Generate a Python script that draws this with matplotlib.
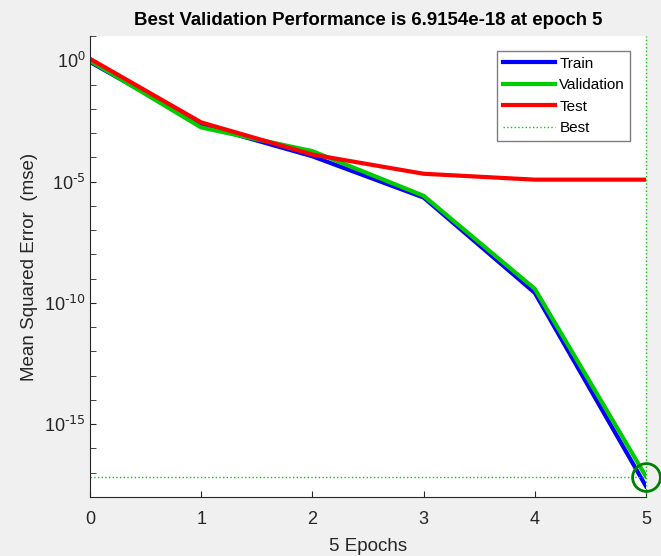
import numpy as np
import matplotlib
matplotlib.use("Agg")
import matplotlib.pyplot as plt
from matplotlib.ticker import LogLocator, NullFormatter

plt.rcParams['font.family'] = ['Liberation Sans', 'DejaVu Sans']
plt.rcParams['axes.unicode_minus'] = False

# performance per epoch (mse)
epochs = [0, 1, 2, 3, 4, 5]
train_perf = [0.85, 2.2e-3, 1.1e-4, 2.2e-6, 2.6e-10, 2.75e-18]
val_perf = [0.95, 1.7e-3, 1.8e-4, 2.6e-6, 3.8e-10, 6.9154e-18]
test_perf = [1.15, 2.75e-3, 1.3e-4, 2.1e-5, 1.2e-5, 1.2e-5]
best_epoch = 5
best_perf = 6.9154e-18
ytick_vals = [1e-15, 1e-10, 1e-5, 1e0]
ytick_labels = ['$\\mathdefault{10^{\\text{-15}}}$', '$\\mathdefault{10^{\\text{-10}}}$',
                '$\\mathdefault{10^{\\text{-5}}}$', '$\\mathdefault{10^{0}}$']

fig = plt.figure(figsize=(6.61, 5.56), dpi=100, facecolor='#f0f0f0')
ax = fig.add_axes([90/661, 59/556, 556/661, 461/556])
ax.set_facecolor('white')

ax.plot(epochs, train_perf, color=(0, 0, 1), lw=3, label='Train')
ax.plot(epochs, val_perf, color=(0, 0.8, 0), lw=3, label='Validation')
ax.plot(epochs, test_perf, color=(1, 0, 0), lw=3, label='Test')

# best validation markers
ax.plot([best_epoch, best_epoch], [1e-18, 10], ':', color=(0, 0.8, 0), lw=1,
        label='Best', clip_on=False)
ax.plot([0, best_epoch], [best_perf, best_perf], ':', color=(0, 0.8, 0), lw=1)
ax.plot([best_epoch], [best_perf], 'o', mfc='none', mec=(0, 0.5, 0), ms=20,
        mew=2, clip_on=False)

ax.set_yscale('log')
ax.set_xlim(0, 5)
ax.set_ylim(1e-18, 10)
ax.yaxis.set_minor_locator(LogLocator(base=10, subs=(1.0,), numticks=40))
ax.yaxis.set_minor_formatter(NullFormatter())
ax.set_yticks(ytick_vals)
ax.set_yticklabels(ytick_labels)

for s in ['top', 'right']:
    ax.spines[s].set_visible(False)
for s in ['left', 'bottom']:
    ax.spines[s].set_color('#262626')
ax.tick_params(which='both', direction='in', length=4, color='#262626',
               labelsize=13, labelcolor='#262626')
ax.tick_params(axis='x', pad=10)
ax.tick_params(axis='y', pad=3)

ax.set_xlabel('5 Epochs', fontsize=13.5, color='#262626', labelpad=7)
ax.set_ylabel('Mean Squared Error  (mse)', fontsize=13.5, color='#262626', labelpad=4)
ax.set_title('Best Validation Performance is 6.9154e-18 at epoch 5',
             fontsize=13.4, fontweight='bold', pad=8)

leg = ax.legend(loc='upper right', bbox_to_anchor=(0.972, 0.967), fontsize=11,
                fancybox=False, framealpha=1, edgecolor='#7f7f7f',
                handlelength=3.4, borderpad=0.35, labelspacing=0.5,
                handletextpad=0.3, borderaxespad=0)
leg.get_frame().set_linewidth(1)

fig.savefig('out.png', dpi=100, facecolor=fig.get_facecolor())
